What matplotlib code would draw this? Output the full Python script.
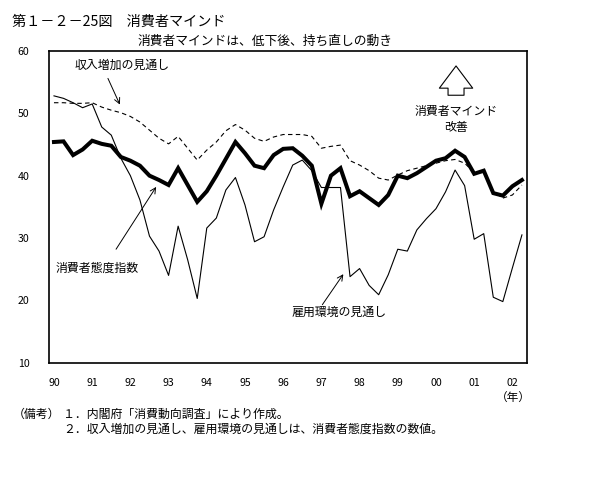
import matplotlib
matplotlib.use('Agg')
from matplotlib import pyplot as plt

plt.rcParams['font.family'] = ['Noto Sans CJK JP', 'DejaVu Sans']
plt.rcParams['axes.unicode_minus'] = False

# 四半期データ 1990年1-3月期 ～ 2002年4-6月期
years = ['90', '91', '92', '93', '94', '95', '96', '97', '98', '99', '00', '01', '02']

# 消費者態度指数
taido = [45.4, 45.5, 43.3, 44.2, 45.6, 45.1, 44.8, 43.0, 42.4, 41.6,
         40.0, 39.3, 38.5, 41.2, 38.5, 35.8, 37.5, 40.0, 42.7, 45.4,
         43.6, 41.6, 41.2, 43.3, 44.3, 44.4, 43.2, 41.6, 35.5, 40.0,
         41.2, 36.7, 37.5, 36.4, 35.3, 36.9, 40.0, 39.6, 40.4, 41.4,
         42.4, 42.8, 44.0, 43.0, 40.3, 40.8, 37.2, 36.8, 38.3, 39.3]

# 収入増加の見通し
shunyu = [51.7, 51.7, 51.6, 51.6, 51.7, 51.0, 50.5, 50.1, 49.5, 48.6,
          47.3, 46.0, 45.1, 46.3, 44.4, 42.5, 44.1, 45.4, 47.2, 48.2,
          47.3, 46.0, 45.5, 46.2, 46.6, 46.6, 46.6, 46.3, 44.4, 44.7,
          44.9, 42.4, 41.7, 40.8, 39.6, 39.3, 40.1, 40.8, 41.2, 41.6,
          42.0, 42.4, 42.6, 42.0, 40.5, 40.5, 37.5, 36.4, 36.9, 38.5]

# 雇用環境の見通し
koyo = [52.8, 52.4, 51.7, 50.9, 51.5, 47.8, 46.5, 42.8, 40.0, 36.1,
        30.3, 27.9, 24.0, 31.9, 26.5, 20.3, 31.6, 33.2, 37.7, 39.7,
        35.3, 29.4, 30.2, 34.5, 38.2, 41.7, 42.5, 40.8, 38.1, 38.1,
        38.1, 23.8, 25.1, 22.4, 20.9, 24.1, 28.2, 27.9, 31.3, 33.1,
        34.7, 37.4, 40.9, 38.4, 29.8, 30.7, 20.5, 19.8, 25.2, 30.5]

if __name__ == '__main__':
    x = list(range(len(taido)))

    fig = plt.figure(figsize=(6.15, 4.8), dpi=100)
    ax = fig.add_axes([0.0797, 0.2444, 0.7772, 0.6494])

    ax.plot(x, koyo, color='black', lw=0.8)
    ax.plot(x, shunyu, color='black', lw=0.8, ls=(0, (4, 3)))
    ax.plot(x, taido, color='black', lw=2.9, solid_joinstyle='miter')

    ax.set_xlim(-0.52, 49.53)
    ax.set_ylim(10, 60)
    ax.set_yticks([10, 20, 30, 40, 50, 60])
    ax.set_xticks(list(range(0, 49, 4)))
    ax.set_xticklabels(years)
    ax.tick_params(axis='both', length=0, labelsize=7.6)
    ax.tick_params(axis='x', pad=11)
    ax.tick_params(axis='y', pad=14)
    for s in ax.spines.values():
        s.set_linewidth(1.2)

    fs = 8.6
    arrow = dict(arrowstyle='->', color='black', lw=0.7, shrinkA=0, shrinkB=0)
    ax.text(7.1, 57.7, '収入増加の見通し', fontsize=fs, ha='center', va='center')
    ax.annotate('', xy=(6.9, 51.4), xytext=(5.65, 55.6), arrowprops=arrow)
    ax.text(4.5, 25.2, '消費者態度指数', fontsize=fs, ha='center', va='center')
    ax.annotate('', xy=(10.7, 38.2), xytext=(6.5, 28.2), arrowprops=arrow)
    ax.text(29.9, 18.0, '雇用環境の見通し', fontsize=fs, ha='center', va='center')
    ax.annotate('', xy=(30.3, 24.2), xytext=(28.1, 19.3), arrowprops=arrow)

    # 改善の矢印
    ax.annotate('', xy=(42.1, 57.6), xytext=(42.1, 52.9),
                arrowprops=dict(arrowstyle='simple,head_length=1.6,head_width=2.4,tail_width=1.15',
                                fc='white', ec='black', lw=0.8, shrinkA=0, shrinkB=0,
                                mutation_scale=10))
    ax.text(42.1, 50.3, '消費者マインド', fontsize=fs, ha='center', va='center')
    ax.text(42.1, 47.8, '改善', fontsize=fs, ha='center', va='center')

    fig.text(12 / 615, 1 - 22 / 480, '第１－２－25図　消費者マインド', fontsize=10.2, va='center')
    fig.text(138 / 615, 1 - 41 / 480, '消費者マインドは、低下後、持ち直しの動き', fontsize=9.2, va='center')
    fig.text(513 / 615, 1 - 398 / 480, '（年）', fontsize=8.4, ha='center', va='center')
    fig.text(13 / 615, 1 - 414 / 480, '（備考）', fontsize=8.6, va='center')
    fig.text(63 / 615, 1 - 414 / 480, '１．内閣府「消費動向調査」により作成。', fontsize=8.6, va='center')
    fig.text(63 / 615, 1 - 429 / 480, '２．収入増加の見通し、雇用環境の見通しは、消費者態度指数の数値。',
             fontsize=8.6, va='center')

    plt.savefig('out.png', dpi=100)
